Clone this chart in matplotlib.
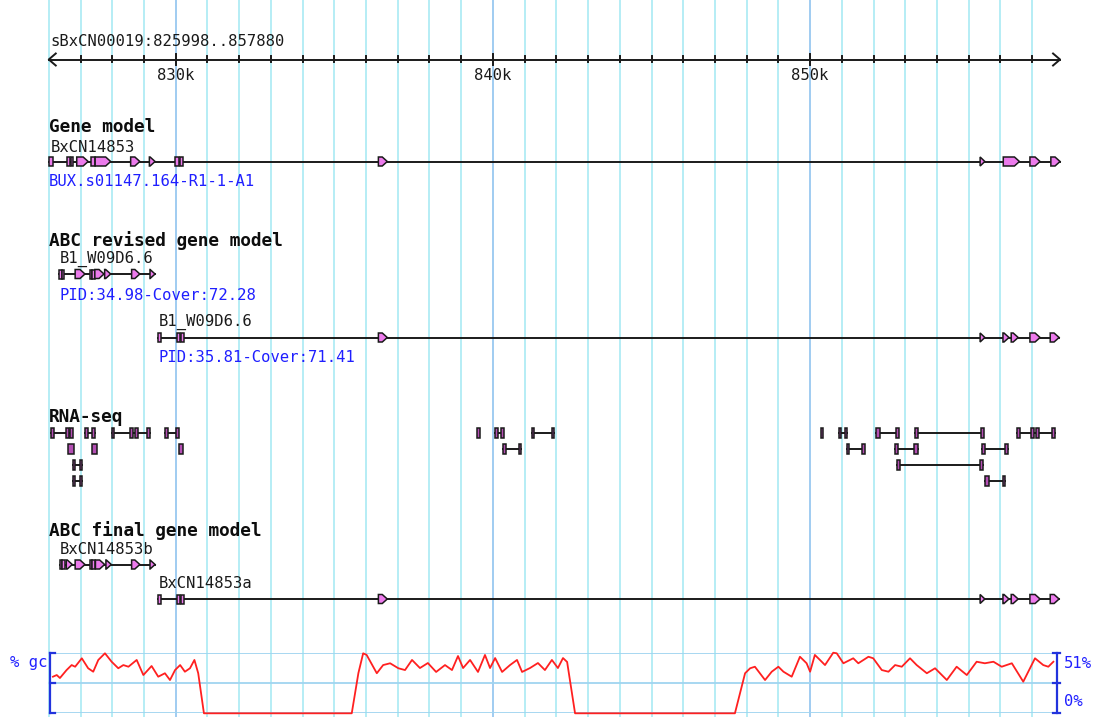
import matplotlib
matplotlib.use("Agg")
import matplotlib.pyplot as plt
from matplotlib.patches import Polygon, Rectangle

# ---------------- data (genomic positions in kb) ----------------
region_name = "sBxCN00019"
region_start = 825.998
region_end = 857.880
ruler_ticks = list(range(826, 858))
ruler_labels = {830: "830k", 840: "840k", 850: "850k"}

track_titles = ["Gene model", "ABC revised gene model", "RNA-seq", "ABC final gene model"]

gene_model_name = "BxCN14853"
gene_model_desc = "BUX.s01147.164-R1-1-A1"
gene_model_span = (825.998, 857.88)
gene_model_exons = [(825.998, 826.12), (826.57, 826.66), (826.69, 826.76), (826.88, 827.24),
                    (827.32, 827.45), (827.46, 827.95), (828.58, 828.87), (829.17, 829.35),
                    (829.98, 830.10), (830.12, 830.24), (836.39, 836.67), (855.36, 855.51),
                    (856.09, 856.60), (856.93, 857.25), (857.59, 857.88)]

revised1_name = "B1_W09D6.6"
revised1_desc = "PID:34.98-Cover:72.28"
revised1_span = (826.33, 829.35)
revised1_exons = [(826.33, 826.37), (826.41, 826.45), (826.83, 827.14), (827.29, 827.33),
                  (827.37, 827.41), (827.45, 827.74), (827.76, 827.95), (828.61, 828.87),
                  (829.19, 829.35)]

revised2_name = "B1_W09D6.6"
revised2_desc = "PID:35.81-Cover:71.41"
revised2_span = (829.45, 857.85)
revised2_exons = [(829.45, 829.50), (830.03, 830.14), (830.16, 830.26), (836.39, 836.67),
                  (855.36, 855.51), (856.08, 856.27), (856.34, 856.56), (856.93, 857.25),
                  (857.57, 857.85)]

# RNA-seq reads: each read is a list of aligned blocks (kb)
rnaseq_row1 = [[(826.07, 826.10), (826.54, 826.64)], [(826.68, 826.76)],
               [(827.14, 827.24), (827.36, 827.46)], [(827.99, 828.05), (828.56, 828.65)],
               [(828.72, 828.78), (829.10, 829.19)], [(829.66, 829.76), (830.01, 830.07)],
               [(839.50, 839.57)], [(840.07, 840.13), (840.26, 840.32)],
               [(841.23, 841.29), (841.86, 841.92)], [(850.33, 850.40)],
               [(850.91, 850.97), (851.10, 851.16)], [(852.08, 852.21), (852.71, 852.77)],
               [(853.31, 853.40), (855.39, 855.45)], [(856.52, 856.62), (856.96, 857.06)],
               [(857.12, 857.22), (857.62, 857.72)]]
rnaseq_row2 = [[(826.60, 826.79)], [(827.36, 827.52)], [(830.09, 830.23)],
               [(840.32, 840.38), (840.82, 840.89)], [(851.16, 851.23), (851.64, 851.70)],
               [(852.68, 852.74), (853.28, 853.40)], [(855.42, 855.51), (856.15, 856.24)]]
rnaseq_row3 = [[(826.76, 826.82), (826.98, 827.04)], [(852.74, 852.80), (855.36, 855.45)]]
rnaseq_row4 = [[(826.76, 826.82), (826.98, 827.04)], [(855.51, 855.64), (856.08, 856.14)]]

final_b_name = "BxCN14853b"
final_b_span = (826.35, 829.35)
final_b_exons = [(826.35, 826.39), (826.43, 826.47), (826.55, 826.74), (826.83, 827.14),
                 (827.29, 827.33), (827.37, 827.41), (827.47, 827.76), (827.80, 827.97),
                 (828.61, 828.87), (829.19, 829.35)]

final_a_name = "BxCN14853a"
final_a_span = (829.45, 857.85)
final_a_exons = [(829.45, 829.50), (830.03, 830.14), (830.16, 830.26), (836.39, 836.67),
                 (855.36, 855.51), (856.08, 856.27), (856.34, 856.56), (856.93, 857.25),
                 (857.57, 857.85)]

gc_label = "% gc"
gc_max = 51
gc_pos = [826.13, 826.25, 826.35, 826.56, 826.72, 826.83, 827.04, 827.24, 827.40, 827.56,
          827.77, 827.98, 828.19, 828.35, 828.51, 828.77, 828.98, 829.24, 829.45, 829.66,
          829.82, 829.98, 830.14, 830.29, 830.45, 830.59, 830.71, 830.89, 835.55, 835.76,
          835.91, 836.02, 836.34, 836.54, 836.76, 837.02, 837.23, 837.45, 837.70, 837.95,
          838.21, 838.49, 838.71, 838.90, 839.06, 839.28, 839.53, 839.75, 839.91, 840.07,
          840.29, 840.54, 840.76, 840.92, 841.17, 841.42, 841.64, 841.86, 842.05, 842.21,
          842.34, 842.59, 847.63, 847.95, 848.11, 848.26, 848.58, 848.79, 849.00, 849.16,
          849.42, 849.68, 849.89, 850.00, 850.15, 850.31, 850.47, 850.73, 850.84, 851.05,
          851.36, 851.52, 851.84, 851.99, 852.26, 852.47, 852.68, 852.89, 853.15, 853.36,
          853.68, 853.94, 854.31, 854.62, 854.94, 855.25, 855.51, 855.78, 856.04, 856.36,
          856.72, 857.09, 857.35, 857.51, 857.67]
gc_pct = [30.8, 32.2, 29.7, 36.4, 40.6, 39.2, 46.3, 37.9, 35.0, 44.9,
          50.5, 43.4, 37.9, 40.6, 39.2, 44.9, 32.2, 39.8, 30.8, 33.7,
          28.0, 36.4, 40.6, 35.0, 37.9, 44.9, 33.7, 0.0, 0.0, 33.9,
          50.5, 49.1, 33.7, 40.6, 42.1, 37.9, 36.4, 44.9, 38.1, 42.3,
          34.8, 40.6, 36.4, 48.2, 38.1, 44.9, 34.8, 49.1, 38.1, 46.5,
          34.8, 40.6, 44.9, 34.8, 38.1, 42.3, 36.4, 44.9, 38.1, 46.5,
          43.2, 0.0, 0.0, 33.7, 37.9, 39.2, 28.0, 35.0, 39.2, 35.0,
          30.8, 47.6, 42.1, 35.0, 49.1, 44.9, 40.6, 51.0, 50.5, 42.1,
          46.3, 42.1, 47.6, 46.3, 36.4, 35.0, 40.6, 39.2, 46.3, 40.6,
          33.7, 37.9, 28.0, 39.2, 32.2, 43.4, 42.1, 43.4, 39.2, 42.1,
          26.6, 46.3, 40.6, 39.2, 43.4]

# ---------------- layout / style ----------------
W, H = 1096, 717
PX_PER_KB = 31.72
KB_AT_LEFT = 830 - 175.7 / PX_PER_KB
XLIM = (KB_AT_LEFT, KB_AT_LEFT + W / PX_PER_KB)
px = 1.0 / PX_PER_KB  # one pixel in kb

MONO = "DejaVu Sans Mono"
FS = 11.2
FS_B = 12.8
BLUE = "#1f1fff"
INK = "#1a1a1a"
EXON_FC = "#ec7bec"
READ_FC = "#b44fb4"
GRID_C = "#b0ecf4"
GRID_MAJ = "#98c8f0"
EDGE_LW = 1.1
LINE_LW = 1.4

fig = plt.figure(figsize=(W / 100, H / 100), dpi=100)
ax = fig.add_axes([0, 0, 1, 1])
ax.set_xlim(*XLIM)
ax.set_ylim(H, 0)
ax.axis("off")

# vertical grid
for t in ruler_ticks:
    ax.axvline(t, color=GRID_MAJ if t in ruler_labels else GRID_C, lw=1.3, zorder=0)

# ruler
ry = 59.5
ax.text(region_start + 1.5 * px, 42,
        f"{region_name}:{int(round(region_start*1000))}..{int(round(region_end*1000))}",
        family=MONO, fontsize=FS, ha="left", va="center", color=INK)
ax.plot([region_start, region_end], [ry, ry], color=INK, lw=LINE_LW, zorder=3)
ax.plot([region_start + 7 * px, region_start, region_start + 7 * px], [ry - 6, ry, ry + 6],
        color=INK, lw=LINE_LW, zorder=3)
ax.plot([region_end - 7 * px, region_end, region_end - 7 * px], [ry - 6, ry, ry + 6],
        color=INK, lw=LINE_LW, zorder=3)
for t in ruler_ticks:
    if t <= region_start + 2 * px:
        continue
    if t in ruler_labels:
        ax.plot([t, t], [ry - 6, ry + 5], color=INK, lw=LINE_LW, zorder=3)
        ax.text(t, 76, ruler_labels[t], family=MONO, fontsize=FS, ha="center", va="center",
                color=INK)
    else:
        ax.plot([t, t], [ry - 3.5, ry + 2.5], color=INK, lw=LINE_LW, zorder=3)


def header(y, s):
    ax.text(region_start, y, s, family=MONO, fontsize=FS_B, fontweight="bold",
            ha="left", va="center", color="#0d0d0d")


def label(x, y, s, color=INK):
    ax.text(x, y, s, family=MONO, fontsize=FS, ha="left", va="center", color=color)


def draw_exon(s, e, y, h=9.0, fc=EXON_FC):
    w = max(e - s, 2.5 * px)
    e = s + w
    top, bot = y - h / 2, y + h / 2
    if w < 0.145:
        ax.add_patch(Rectangle((s, top), w, h, fc=fc, ec=INK, lw=EDGE_LW, zorder=5))
        return
    tip = min(5 * px, w)
    if tip >= w:
        pts = [(s, top), (e, y), (s, bot)]
    else:
        pts = [(s, top), (e - tip, top), (e, y), (e - tip, bot), (s, bot)]
    ax.add_patch(Polygon(pts, closed=True, fc=fc, ec=INK, lw=EDGE_LW, zorder=5))


def draw_gene(span, exons, y):
    ax.plot([span[0], span[1]], [y, y], color=INK, lw=LINE_LW, zorder=4)
    for s, e in exons:
        draw_exon(max(s, span[0]), min(e, span[1]), y)


def draw_read(blocks, y):
    if len(blocks) > 1:
        ax.plot([blocks[0][0], blocks[-1][1]], [y, y], color=INK, lw=LINE_LW, zorder=4)
    for s, e in blocks:
        w = max(e - s, 2.5 * px)
        ax.add_patch(Rectangle((s, y - 5), w, 10, fc=READ_FC, ec=INK, lw=EDGE_LW, zorder=5))


# Gene model
header(127, track_titles[0])
label(gene_model_span[0] + 2 * px, 147, gene_model_name)
draw_gene(gene_model_span, gene_model_exons, 161.5)
label(gene_model_span[0], 182, gene_model_desc, BLUE)

# ABC revised gene model
header(241, track_titles[1])
label(revised1_span[0], 259, revised1_name)
draw_gene(revised1_span, revised1_exons, 274)
label(revised1_span[0], 295, revised1_desc, BLUE)
label(revised2_span[0], 322, revised2_name)
draw_gene(revised2_span, revised2_exons, 337.5)
label(revised2_span[0], 357, revised2_desc, BLUE)

# RNA-seq
header(417, track_titles[2])
for row, yy in zip([rnaseq_row1, rnaseq_row2, rnaseq_row3, rnaseq_row4], [433, 449, 464.5, 480.5]):
    for read in row:
        draw_read(read, yy)

# ABC final gene model
header(531, track_titles[3])
label(final_b_span[0], 549, final_b_name)
draw_gene(final_b_span, final_b_exons, 564.5)
label(final_a_span[0], 583, final_a_name)
draw_gene(final_a_span, final_a_exons, 599)

# GC content panel
gc_top, gc_bot = 652.7, 713.3
ax2 = fig.add_axes([0, (H - gc_bot) / H, 1, (gc_bot - gc_top) / H])
ax2.set_xlim(*XLIM)
ax2.set_ylim(0, gc_max)
ax2.axis("off")
ax2.patch.set_alpha(0)
left_b = region_start + 1.5 * px
right_b = region_end - 3 * px
ax2.hlines([0, gc_max / 2, gc_max], left_b, right_b, color="#a0d4f0", lw=1.3, zorder=1)
ax2.plot(gc_pos, gc_pct, color="#ff2020", lw=1.3, zorder=3, clip_on=False)
ax2.plot([left_b, left_b], [0, gc_max], color="#2233dd", lw=1.6, zorder=4, clip_on=False)
ax2.plot([right_b, right_b], [0, gc_max], color="#2233dd", lw=1.6, zorder=4, clip_on=False)
for v in [0, gc_max / 2, gc_max]:
    ax2.plot([left_b, left_b + 5 * px], [v, v], color="#2233dd", lw=1.6, zorder=4, clip_on=False)
    ax2.plot([right_b - 4 * px, right_b + 3 * px], [v, v], color="#2233dd", lw=1.6, zorder=4,
             clip_on=False)
ax.text(left_b - 3 * px, 662, gc_label, family=MONO, fontsize=FS, ha="right", va="center", color=BLUE)
ax.text(right_b + 7 * px, 663, f"{gc_max}%", family=MONO, fontsize=FS, ha="left", va="center", color=BLUE)
ax.text(right_b + 7 * px, 702, "0%", family=MONO, fontsize=FS, ha="left", va="center", color=BLUE)

fig.savefig("out.png", dpi=100, facecolor="white")
